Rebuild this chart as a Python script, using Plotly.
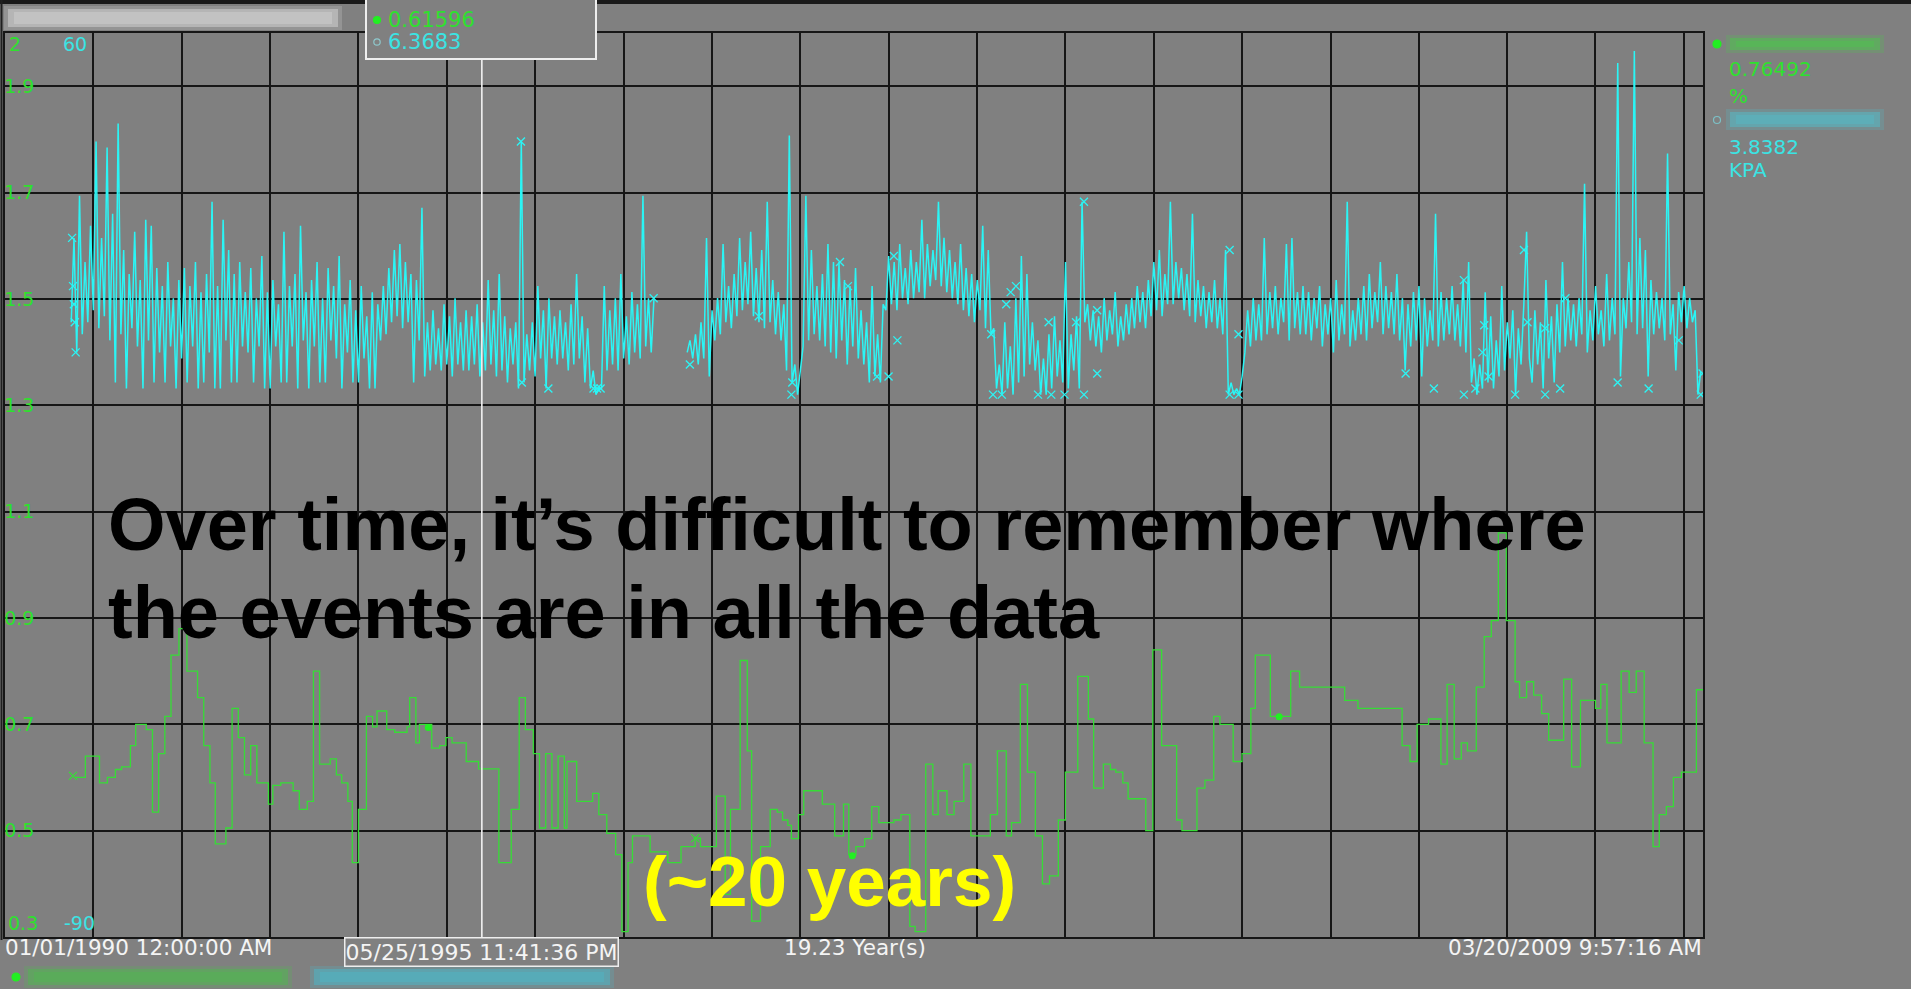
import plotly.graph_objects as go
import pandas as pd

# ---------------- data ----------------
x_start = "1990-01-01 00:00:00"
x_end = "2009-03-20 09:57:16"
cursor_time = "1995-05-25 23:41:36"

# green series (%), step line, decimal-year change points
green_t = [1990.79, 1990.91, 1991.07, 1991.16, 1991.25, 1991.32, 1991.42, 1991.48, 1991.60, 1991.67,
           1991.74, 1991.81, 1991.88, 1991.97, 1992.02, 1992.06, 1992.18, 1992.25, 1992.32, 1992.38,
           1992.50, 1992.57, 1992.64, 1992.71, 1992.78, 1992.85, 1992.98, 1993.03, 1993.12, 1993.26,
           1993.33, 1993.42, 1993.49, 1993.56, 1993.68, 1993.75, 1993.81, 1993.88, 1993.93, 1994.00,
           1994.09, 1994.16, 1994.21, 1994.32, 1994.41, 1994.55, 1994.58, 1994.65, 1994.69, 1994.83,
           1994.92, 1994.99, 1995.06, 1995.22, 1995.30, 1995.36, 1995.59, 1995.73, 1995.82, 1995.89,
           1995.98, 1996.05, 1996.12, 1996.19, 1996.26, 1996.33, 1996.36, 1996.47, 1996.65, 1996.72,
           1996.81, 1996.91, 1996.98, 1997.05, 1997.10, 1997.30, 1997.50, 1997.65, 1997.81, 1997.87,
           1998.05, 1998.15, 1998.21, 1998.32, 1998.40, 1998.45, 1998.55, 1998.66, 1998.74, 1998.80,
           1998.86, 1998.90, 1998.98, 1999.04, 1999.25, 1999.39, 1999.49, 1999.55, 1999.63, 1999.73,
           1999.81, 1999.89, 2000.06, 2000.14, 2000.24, 2000.30, 2000.42, 2000.50, 2000.56, 2000.66,
           2000.74, 2000.85, 2000.93, 2001.15, 2001.23, 2001.33, 2001.39, 2001.49, 2001.57, 2001.66,
           2001.74, 2001.82, 2001.92, 2002.00, 2002.14, 2002.26, 2002.32, 2002.43, 2002.51, 2002.57,
           2002.65, 2002.71, 2002.91, 2002.99, 2003.09, 2003.26, 2003.32, 2003.49, 2003.58, 2003.68,
           2003.75, 2003.90, 2004.00, 2004.10, 2004.15, 2004.32, 2004.55, 2004.65, 2005.16, 2005.31,
           2005.81, 2005.90, 2005.98, 2006.11, 2006.25, 2006.32, 2006.40, 2006.48, 2006.55, 2006.65,
           2006.74, 2006.82, 2006.90, 2006.99, 2007.09, 2007.14, 2007.22, 2007.30, 2007.39, 2007.47,
           2007.64, 2007.73, 2007.83, 2008.00, 2008.06, 2008.13, 2008.29, 2008.38, 2008.46, 2008.55,
           2008.65, 2008.72, 2008.80, 2008.88, 2008.97, 2009.14, 2009.22]
green_v = [0.60, 0.64, 0.59, 0.60, 0.615, 0.62, 0.66, 0.70, 0.69, 0.535,
           0.645, 0.715, 0.83, 0.88, 0.90, 0.80, 0.75, 0.66, 0.59, 0.475,
           0.505, 0.73, 0.675, 0.605, 0.66, 0.59, 0.55, 0.585, 0.59, 0.575,
           0.54, 0.555, 0.80, 0.625, 0.635, 0.605, 0.59, 0.555, 0.44, 0.54,
           0.715, 0.695, 0.725, 0.69, 0.685, 0.695, 0.75, 0.665, 0.70, 0.655,
           0.66, 0.675, 0.665, 0.63, 0.63, 0.616, 0.44, 0.54, 0.75, 0.69,
           0.645, 0.505, 0.645, 0.505, 0.64, 0.505, 0.63, 0.555, 0.57, 0.53,
           0.495, 0.455, 0.31, 0.44, 0.49, 0.46, 0.44, 0.47, 0.486, 0.47,
           0.565, 0.38, 0.54, 0.82, 0.65, 0.33, 0.47, 0.54, 0.535, 0.52,
           0.51, 0.485, 0.53, 0.575, 0.55, 0.49, 0.55, 0.455, 0.47, 0.485,
           0.545, 0.515, 0.52, 0.53, 0.32, 0.31, 0.625, 0.53, 0.575, 0.53,
           0.555, 0.625, 0.49, 0.53, 0.65, 0.49, 0.515, 0.775, 0.61, 0.49,
           0.40, 0.415, 0.52, 0.61, 0.79, 0.71, 0.58, 0.625, 0.615, 0.61,
           0.59, 0.56, 0.50, 0.84, 0.66, 0.52, 0.50, 0.58, 0.595, 0.715,
           0.70, 0.63, 0.645, 0.73, 0.83, 0.715, 0.80, 0.77, 0.745, 0.73,
           0.66, 0.63, 0.70, 0.71, 0.625, 0.775, 0.635, 0.665, 0.65, 0.77,
           0.865, 0.895, 1.06, 0.895, 0.78, 0.75, 0.78, 0.755, 0.72, 0.67,
           0.785, 0.62, 0.745, 0.73, 0.775, 0.665, 0.80, 0.76, 0.80, 0.665,
           0.47, 0.53, 0.545, 0.60, 0.61, 0.765, 0.765]
green_dot_t = [1994.79, 1999.59, 2004.42]
green_dot_v = [0.694, 0.453, 0.714]
green_x_t = [1990.77, 1997.81]
green_x_v = [0.603, 0.486]

# cyan series (KPA), two recorded stretches, one sample every 1/32 year
cyan_a_start = 1990.75
cyan_b_start = 1997.72
cyan_step = 1 / 32
cyan_a = [12, 26, 7, 33, 10, 22, 12, 28, 14, 42, 11, 26, 13, 41, 9, 30,
          2, 45, 10, 24, 1, 20, 11, 27, 8, 19, 1, 29, 9, 28, 2, 21,
          7, 18, 2, 22, 8, 16, 1, 19, 6, 21, 2, 18, 8, 22, 1, 17,
          2, 20, 7, 32, 1, 18, 1, 29, 9, 24, 2, 20, 2, 22, 8, 17,
          7, 21, 2, 16, 8, 23, 1, 17, 1, 19, 8, 15, 2, 27, 2, 18,
          8, 20, 1, 28, 9, 17, 1, 19, 8, 22, 2, 16, 2, 21, 9, 18,
          6, 23, 1, 15, 7, 19, 2, 14, 2, 18, 6, 13, 1, 17, 1, 15,
          9, 18, 10, 21, 12, 24, 13, 25, 11, 22, 12, 20, 2, 19, 9, 31,
          3, 12, 4, 14, 5, 11, 4, 15, 5, 13, 3, 16, 5, 12, 4, 14,
          4, 13, 5, 15, 3, 12, 4, 19, 5, 14, 3, 20, 4, 13, 2, 11,
          5, 12, 1, 42, 2, 10, 4, 12, 3, 18, 6, 14, 1, 16, 6, 13,
          5, 14, 6, 12, 4, 15, 5, 20, 6, 13, 2, 11, 1, 4, 0, 1,
          1, 18, 4, 14, 5, 16, 4, 20, 6, 13, 5, 17, 7, 15, 6, 33,
          8, 16, 7, 16]
cyan_b = [7, 9, 6, 10, 5, 12, 6, 26, 3, 14, 9, 16, 10, 25, 12, 18,
          11, 20, 13, 26, 14, 22, 15, 27, 13, 21, 12, 24, 11, 32, 12, 19,
          10, 17, 9, 15, 4, 43, 2, 5, 0, 4, 8, 33, 9, 24, 10, 18,
          9, 20, 8, 25, 7, 22, 6, 22, 9, 19, 5, 18, 8, 21, 6, 14,
          5, 12, 2, 18, 3, 10, 2, 15, 14, 23, 15, 22, 14, 25, 16, 21,
          15, 24, 16, 22, 17, 29, 16, 25, 18, 24, 19, 32, 18, 26, 17, 24,
          16, 22, 15, 25, 14, 21, 13, 20, 12, 19, 14, 28, 11, 24, 10, 11,
          1, 5, 0, 12, 1, 8, 0, 16, 2, 23, 3, 20, 5, 12, 4, 9,
          0, 6, 0, 10, 1, 13, 3, 9, 2, 22, 1, 10, 4, 13, 1, 32,
          12, 15, 9, 14, 8, 13, 7, 16, 9, 14, 10, 17, 8, 13, 9, 15,
          10, 16, 11, 18, 12, 17, 11, 19, 13, 22, 14, 24, 13, 20, 15, 32,
          15, 22, 16, 21, 14, 20, 13, 30, 12, 19, 13, 18, 11, 17, 12, 19,
          11, 16, 10, 24, 0, 2, 0, 1, 0, 3, 7, 14, 8, 16, 9, 15,
          9, 26, 10, 17, 11, 18, 10, 16, 12, 25, 9, 26, 11, 17, 10, 18,
          10, 17, 9, 16, 11, 18, 8, 15, 10, 16, 7, 19, 9, 15, 10, 32,
          8, 14, 9, 16, 10, 18, 9, 20, 11, 17, 12, 22, 10, 18, 11, 17,
          10, 20, 9, 16, 4, 15, 8, 17, 9, 18, 3, 16, 8, 14, 9, 30,
          8, 17, 9, 16, 10, 18, 9, 15, 8, 19, 7, 22, 2, 6, 0, 5,
          1, 17, 2, 13, 1, 9, 3, 18, 4, 12, 6, 14, 0, 11, 5, 15,
          27, 6, 2, 14, 5, 12, 1, 19, 6, 13, 2, 15, 7, 22, 8, 16,
          9, 15, 8, 16, 10, 35, 7, 14, 9, 18, 10, 14, 8, 20, 9, 16,
          10, 55, 3, 16, 11, 22, 12, 57, 10, 26, 11, 24, 3, 19, 10, 17,
          11, 16, 9, 40, 10, 15, 4, 17, 12, 18, 11, 16, 12, 14, 0, 3.8]
cyan_x_t = [1990.76, 1990.77, 1990.78, 1990.79, 1990.80, 1995.84, 1995.85, 1996.15, 1996.66, 1996.70,
            1996.74, 1997.34, 1997.75, 1998.53, 1998.90, 1998.91, 1999.45, 1999.54, 1999.87, 2000.00,
            2000.06, 2000.10, 2001.16, 2001.18, 2001.28, 2001.33, 2001.38, 2001.44, 2001.69, 2001.81,
            2001.84, 2001.99, 2002.12, 2002.21, 2002.21, 2002.36, 2002.36, 2003.86, 2003.86, 2003.96,
            2003.96, 2005.85, 2006.17, 2006.51, 2006.51, 2006.64, 2006.72, 2006.74, 2006.79, 2007.09,
            2007.19, 2007.23, 2007.43, 2007.43, 2007.60, 2007.66, 2008.25, 2008.60, 2008.94, 2009.19,
            2009.21]
cyan_x_v = [26, 18, 15, 12, 7, 42, 2, 1, 1, 1,
            1, 16, 5, 13, 0, 2, 22, 18, 3, 3,
            23, 9, 10, 0, 0, 15, 17, 18, 0, 12,
            0, 0, 12, 32, 0, 14, 3.5, 24, 0, 0,
            10, 3.5, 1, 19, 0, 1, 7, 11.5, 3, 0,
            24, 12, 11, 0, 1, 16, 2, 1, 9, 0,
            3.5]

left_ticks = [0.5, 0.7, 0.9, 1.1, 1.3, 1.5, 1.7, 1.9]
left_grid = [0.3, 0.5, 0.7, 0.9, 1.1, 1.3, 1.5, 1.7, 1.9]
left_range = [0.3, 2.0]
right_range = [-90, 60]

readout_green = "0.61596"
readout_cyan = "6.3683"
legend_green_value, legend_green_unit = "0.76492", "%"
legend_cyan_value, legend_cyan_unit = "3.8382", "KPA"
label_start = "01/01/1990 12:00:00 AM"
label_span = "19.23 Year(s)"
label_end = "03/20/2009 9:57:16 AM"
label_cursor = "05/25/1995 11:41:36 PM"
title_line1 = "Over time, it\u2019s difficult to remember where"
title_line2 = "the events are in all the data"
note_text = "(~20 years)"

# ---------------- helpers ----------------
def dec_to_ts(y):
    yi = int(y)
    a = pd.Timestamp(year=yi, month=1, day=1)
    b = pd.Timestamp(year=yi + 1, month=1, day=1)
    return (a + (b - a) * (y - yi)).strftime("%Y-%m-%d %H:%M:%S")

PL, PR, PT, PB = 5, 1703, 33, 937          # plot area in pixels
W, H = 1911, 989

def px(x):
    return (x - PL) / (PR - PL)

def py(y):
    return (PB - y) / (PB - PT)

GREEN = "#36dc36"
GREEN_TXT = "#2ee02e"
CYAN = "#2af5f5"
CYAN_TXT = "#3ae4e4"
GRID = "#161616"
BG = "#808080"
SMALL = "DejaVu Sans"

# ---------------- traces ----------------
cx = [dec_to_ts(cyan_a_start + i * cyan_step) for i in range(len(cyan_a))] + [None] + \
     [dec_to_ts(cyan_b_start + i * cyan_step) for i in range(len(cyan_b))]
cy = cyan_a + [None] + cyan_b

fig = go.Figure()
fig.add_trace(go.Scatter(x=cx, y=cy, mode="lines", yaxis="y2",
                         line=dict(color=CYAN, width=1.5), connectgaps=False, hoverinfo="skip"))
fig.add_trace(go.Scatter(x=[dec_to_ts(t) for t in cyan_x_t], y=cyan_x_v, mode="markers", yaxis="y2",
                         marker=dict(symbol="x-thin-open", size=8, color=CYAN, line=dict(width=1.3)),
                         hoverinfo="skip"))
fig.add_trace(go.Scatter(x=[dec_to_ts(t) for t in green_t], y=green_v, mode="lines",
                         line=dict(color=GREEN, width=1.3, shape="hv"), hoverinfo="skip"))
fig.add_trace(go.Scatter(x=[dec_to_ts(t) for t in green_dot_t], y=green_dot_v, mode="markers",
                         marker=dict(symbol="circle", size=7, color="#22f022"), hoverinfo="skip"))
fig.add_trace(go.Scatter(x=[dec_to_ts(t) for t in green_x_t], y=green_x_v, mode="markers",
                         marker=dict(symbol="x-thin-open", size=8, color=GREEN, line=dict(width=1.3)),
                         hoverinfo="skip"))

# ---------------- shapes ----------------
shapes = []

def rect(x0, y0, x1, y1, fill, opacity=1.0, line=None, layer="above"):
    shapes.append(dict(type="rect", xref="paper", yref="paper",
                       x0=px(x0), x1=px(x1), y0=py(y1), y1=py(y0),
                       fillcolor=fill, opacity=opacity,
                       line=line if line else dict(width=0), layer=layer))

def blur_bar(x0, y0, x1, y1, fill):
    rect(x0 - 4, y0 - 3, x1 + 4, y1 + 3, fill, 0.25)
    rect(x0, y0, x1, y1, fill, 0.55)
    rect(x0 + 6, y0 + 3, x1 - 6, y1 - 3, fill, 0.5)

def dot(x, y, r, fill, line_color=None):
    shapes.append(dict(type="circle", xref="paper", yref="paper",
                       x0=px(x - r), x1=px(x + r), y0=py(y + r), y1=py(y - r),
                       fillcolor=fill if fill else "rgba(0,0,0,0)",
                       line=dict(color=line_color or fill, width=1.2), layer="above"))

# dark frame bits of the screenshot
rect(0, 0, W, 4, "#1a1a1a")
shapes.append(dict(type="line", xref="paper", yref="paper", x0=px(1.5), x1=px(1.5),
                   y0=py(940), y1=py(0), line=dict(color="#202020", width=2), layer="above"))

# blurred (redacted) tag names
blur_bar(8, 9, 338, 27, "#d0d0d0")
blur_bar(1730, 38, 1880, 50, "#50c050")
blur_bar(1730, 112, 1880, 127, "#55b8c4")
blur_bar(28, 969, 288, 985, "#52b452")
blur_bar(314, 969, 610, 985, "#4fb4c4")

# cursor line and readout box
shapes.append(dict(type="line", xref="x", yref="paper", x0=cursor_time, x1=cursor_time,
                   y0=py(941), y1=py(59), line=dict(color="#f2f2f2", width=1.6), layer="above"))
rect(366, -4, 596, 59, BG, 1.0, line=dict(color="#eeeeee", width=2))

dot(377, 20, 3.5, "#22ee22")
dot(377, 42, 3.2, None, "#8ec8cc")
dot(1717, 44, 4, "#22ee22")
dot(1717, 120, 3.5, None, "#7cc0c6")
dot(16, 977, 4, "#22ee22")

# ---------------- annotations ----------------
anns = []

def ann(text, x, y, size, color, xanchor="left", family=SMALL, **kw):
    d = dict(text=text, xref="paper", yref="paper", x=px(x), y=py(y),
             xanchor=xanchor, yanchor="middle", showarrow=False,
             font=dict(family=family, size=size, color=color))
    d.update(kw)
    anns.append(d)

ann("2", 7, 44, 19, GREEN_TXT)
ann("60", 61, 44, 19, CYAN_TXT)
ann("0.3", 6, 923, 19, GREEN_TXT)
ann("-90", 62, 923, 19, CYAN_TXT)

ann(readout_green, 386, 20, 21, GREEN_TXT)
ann(readout_cyan, 386, 42, 21, CYAN_TXT)

ann(legend_green_value, 1727, 69, 20, GREEN_TXT)
ann(legend_green_unit, 1727, 96, 20, GREEN_TXT)
ann(legend_cyan_value, 1727, 147, 20, CYAN_TXT)
ann(legend_cyan_unit, 1727, 170, 20, CYAN_TXT)

ann(label_start, 3, 947, 21.5, "#f4f4f4")
ann(label_span, 855, 947, 21.5, "#f4f4f4", xanchor="center")
ann(label_end, 1704, 947, 21.5, "#f4f4f4", xanchor="right")
anns.append(dict(text=label_cursor, xref="x", yref="paper", x=cursor_time, y=py(952),
                 xanchor="center", yanchor="middle", showarrow=False,
                 width=272, height=27, align="center",
                 font=dict(family=SMALL, size=22, color="#f4f4f4"),
                 bgcolor=BG, bordercolor="#eeeeee", borderwidth=1.5, borderpad=0))

BIG = "Liberation Sans, Arial, sans-serif"
ann("<b>" + title_line1 + "</b>", 106, 524, 74, "#000000", family=BIG)
ann("<b>" + title_line2 + "</b>", 106, 612, 74, "#000000", family=BIG)
ann("<b>" + note_text + "</b>", 641, 881, 71, "#ffff00", family=BIG)

# ---------------- layout ----------------
fig.update_layout(
    width=W, height=H,
    margin=dict(l=PL, r=W - PR, t=PT, b=H - PB, pad=0),
    paper_bgcolor=BG, plot_bgcolor=BG,
    showlegend=False, hovermode=False,
    xaxis=dict(type="date", range=[x_start, x_end], showgrid=True, gridcolor=GRID, gridwidth=2,
               tick0="1990-01-01", dtick="M12", showticklabels=False, ticks="",
               showline=True, linecolor=GRID, linewidth=2, mirror=True, zeroline=False),
    yaxis=dict(range=left_range, tickvals=left_grid,
               ticktext=[""] + [f"{v:.1f}" for v in left_ticks],
               ticklabelposition="inside", ticks="", ticklabelstandoff=0,
               tickfont=dict(family=SMALL, size=19, color=GREEN_TXT),
               showgrid=True, gridcolor=GRID, gridwidth=2,
               showline=True, linecolor=GRID, linewidth=2, mirror=True, zeroline=False),
    yaxis2=dict(range=right_range, overlaying="y", visible=False),
    shapes=shapes, annotations=anns,
)

fig.write_html(
    "out.html",
    config={"displayModeBar": False},
    post_script="document.documentElement.style.background='#808080';"
                "document.body.style.margin='0';document.body.style.background='#808080';",
)
